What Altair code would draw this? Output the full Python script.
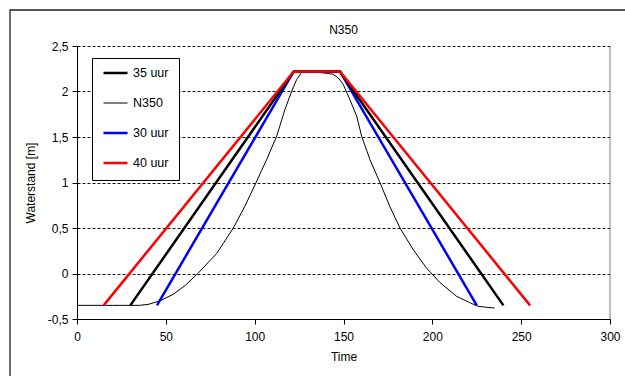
import altair as alt
import pandas as pd

# ---- data ----
series_order = ["35 uur", "N350", "30 uur", "40 uur"]
series_colors = ["#000000", "#000000", "#0000FF", "#FF0000"]
series_widths = [2.5, 1, 2.5, 2.5]

t40 = [15, 122, 148, 255]
w40 = [-0.35, 2.22, 2.22, -0.35]
t35 = [30, 122, 148, 240]
w35 = [-0.35, 2.22, 2.22, -0.35]
t30 = [45, 122, 148, 225]
w30 = [-0.35, 2.22, 2.22, -0.35]

n350_t = [0, 20, 35, 40, 46.7, 54, 61, 68, 78.6, 88, 94.5, 100.8, 106.7, 112.4,
          117, 120.8, 123.6, 126.4, 131, 136, 140.5, 144, 147, 149.8, 153.6,
          157.4, 160.2, 164.9, 170.5, 176, 181.8, 189.3, 196.7, 204.3, 213.6,
          221, 225.7, 230, 235]
n350_w = [-0.35, -0.35, -0.35, -0.34, -0.30, -0.23, -0.13, 0.0, 0.22, 0.5, 0.74,
          1.0, 1.25, 1.51, 1.8, 2.0, 2.13, 2.21, 2.22, 2.21, 2.2, 2.19, 2.15,
          2.08, 1.91, 1.73, 1.51, 1.25, 1.0, 0.74, 0.5, 0.26, 0.06, -0.10,
          -0.25, -0.32, -0.36, -0.37, -0.38]

x_ticks = [0, 50, 100, 150, 200, 250, 300]
y_ticks = [-0.5, 0, 0.5, 1, 1.5, 2, 2.5]

rows = []
for name, ts, ws in [("40 uur", t40, w40), ("35 uur", t35, w35),
                     ("30 uur", t30, w30), ("N350", n350_t, n350_w)]:
    for i, (t, w) in enumerate(zip(ts, ws)):
        rows.append({"time": t, "level": w, "series": name, "idx": i})
df = pd.DataFrame(rows)

FONT = "Liberation Sans"

legend = alt.Legend(
    title=None, orient="none", legendX=15, legendY=12,
    strokeColor="#000000", fillColor="#ffffff", padding=10,
    symbolType="stroke", symbolSize=576, clipHeight=10, rowPadding=17,
    labelOffset=4, labelFontSize=12.5, labelFont=FONT, labelColor="#000000",
)

x_enc = alt.X("time:Q", scale=alt.Scale(domain=[0, 300], nice=False),
              axis=alt.Axis(values=x_ticks, title="Time", grid=False,
                            tickSize=5, labelPadding=7, titlePadding=9,
                            domainColor="#000", tickColor="#000",
                            labelColor="#000", titleColor="#000",
                            labelFontSize=12, titleFontSize=12,
                            titleFontWeight="normal", labelFlush=False))
y_enc = alt.Y("level:Q", scale=alt.Scale(domain=[-0.5, 2.5], nice=False, zero=False),
              axis=alt.Axis(values=y_ticks, title="Waterstand [m]", grid=True,
                            gridColor="#111", gridDash=[3, 2], gridWidth=1,
                            tickSize=5, labelPadding=4, titlePadding=10,
                            domainColor="#000", tickColor="#000",
                            labelColor="#000", titleColor="#000",
                            labelFontSize=12, titleFontSize=12,
                            titleFontWeight="normal",
                            labelExpr="replace(toString(datum.value), '.', ',')"))
color_enc = alt.Color("series:N", scale=alt.Scale(domain=series_order, range=series_colors),
                      legend=legend)
sw_enc = alt.StrokeWidth("series:N",
                         scale=alt.Scale(type="ordinal", domain=series_order, range=series_widths),
                         legend=legend)

base = alt.Chart(df)

def series_layer(name):
    return base.transform_filter(alt.datum.series == name).mark_line(clip=True).encode(
        x=x_enc, y=y_enc, color=color_enc, strokeWidth=sw_enc, order="idx:Q")

right_border = alt.Chart(pd.DataFrame({"time": [300]})).mark_rule(
    color="#808080", strokeWidth=1).encode(x=alt.X("time:Q"))

frame = alt.Chart(pd.DataFrame({"a": [0]})).mark_rect(
    fillOpacity=0, stroke="#222222", strokeWidth=1.3).encode(
    x=alt.value(-67), x2=alt.value(600), y=alt.value(-36), y2=alt.value(400))

chart = alt.layer(
    right_border,
    series_layer("N350"),
    series_layer("30 uur"),
    series_layer("35 uur"),
    series_layer("40 uur"),
    frame,
).properties(
    width=533, height=273,
    title=alt.TitleParams("N350", fontSize=12, fontWeight="normal", font=FONT,
                          color="#000", offset=0, dy=28),
    autosize=alt.AutoSizeParams(type="none"),
    padding={"left": 77, "top": 46, "right": 15, "bottom": 57},
).configure(font=FONT).configure_view(stroke=None).configure_axis(
    labelFont=FONT, titleFont=FONT)

chart.save("out.html", embed_options={"renderer": "svg", "actions": False})
